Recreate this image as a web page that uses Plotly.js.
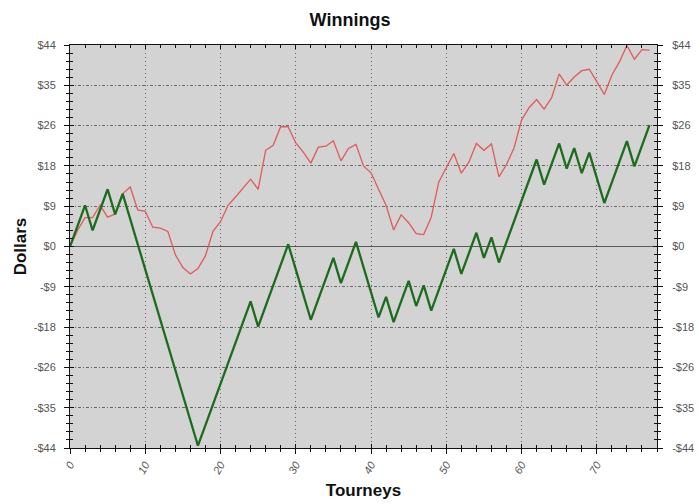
<!DOCTYPE html>
<html>
<head>
<meta charset="utf-8">
<script src="https://cdn.plot.ly/plotly-3.0.1.min.js"></script>
<style>html,body{margin:0;padding:0;background:#fff;}#chart{width:700px;height:504px;}</style>
</head>
<body>
<div id="chart"></div>
<script>
// Tourney index
const tourneys = [0,1,2,3,4,5,6,7,8,9,10,11,12,13,14,15,16,17,18,19,20,21,22,23,24,25,26,27,28,29,30,31,32,33,34,35,36,37,38,39,40,41,42,43,44,45,46,47,48,49,50,51,52,53,54,55,56,57,58,59,60,61,62,63,64,65,66,67,68,69,70,71,72,73,74,75,76,77];
// Actual winnings (green)
const winnings = [0,4.5,9,3.5,8,12.5,7,11.5,6,0.5,-5,-10.5,-16,-21.5,-27,-32.5,-38,-43.5,-39,-34.5,-30,-25.5,-21,-16.5,-12,-17.5,-13,-8.5,-4,0.5,-5,-10.5,-16,-11.5,-7,-2.5,-8,-3.5,1,-4.5,-10,-15.5,-11,-16.5,-12,-7.5,-13,-8.5,-14,-9.5,-5,-0.5,-6,-1.5,3,-2.5,2,-3.5,1,5.5,10,14.5,19,13.5,18,22.5,17,21.5,16,20.5,15,9.5,14,18.5,23,17.5,22,26.5];
// Second (red) series
const expected = [0,3.5,6.3,6.3,9.0,6.4,7.1,11.5,13.0,8.0,7.7,4.2,4.0,3.3,-1.8,-4.6,-6.0,-4.8,-2.0,3.3,5.4,9.0,10.8,12.8,14.7,12.5,21.0,22.1,26.2,26.1,22.6,20.6,18.2,21.7,21.9,23.1,18.7,21.4,22.3,17.6,16.1,12.5,9.0,3.6,6.9,5.2,2.8,2.6,6.4,14.1,17.2,20.3,16.0,18.4,22.5,21.0,22.4,15.2,17.9,21.5,27.6,30.3,32.1,30.0,32.5,37.7,35.2,37.0,38.4,38.7,36.0,33.2,37.4,40.3,43.9,40.9,43.0,42.9];
// Axis ticks
const yTickVals = [-44,-35.2,-26.4,-17.6,-8.8,0,8.8,17.6,26.4,35.2,44];
const yTickText = ['-$44','-$35','-$26','-$18','-$9','$0','$9','$18','$26','$35','$44'];
const xTickVals = [0,10,20,30,40,50,60,70];
const xTickText = ['0','10','20','30','40','50','60','70'];

const tickFont = {family:'Liberation Sans, Arial, sans-serif', size:11, color:'#555'};
const titleFont = {family:'Liberation Sans, Arial, sans-serif', size:17, color:'#111', weight:'bold'};
const xRange = [0,78];
const yRange = [-44,44];

const traces = [
  {x: tourneys, y: expected, type:'scatter', mode:'lines', xaxis:'x', yaxis:'y',
   line:{color:'#e05a5a', width:1.3}, hoverinfo:'skip', showlegend:false},
  {x: tourneys, y: winnings, type:'scatter', mode:'lines', xaxis:'x2', yaxis:'y2',
   line:{color:'#1d6b1d', width:2.3}, hoverinfo:'skip', showlegend:false}
];

const baseX = {range:xRange, tickmode:'array', tickvals:xTickVals, ticktext:xTickText,
  tickangle:-60, tickfont:Object.assign({}, tickFont, {style:'italic'}), showline:true, linecolor:'#111', linewidth:1,
  tickcolor:'#111', tickwidth:1};
const baseY = {range:yRange, tickmode:'array', tickvals:yTickVals, ticktext:yTickText,
  tickfont:tickFont, showline:true, linecolor:'#111', linewidth:1, mirror:'allticks',
  tickcolor:'#111', tickwidth:1};

const layout = {
  width:700, height:504,
  margin:{l:70, r:43, t:45, b:56, pad:0},
  paper_bgcolor:'#ffffff', plot_bgcolor:'#d3d3d3',
  title:{text:'Winnings', font:{family:'Liberation Sans, Arial, sans-serif', size:18, color:'#111', weight:'bold'},
    x:0.5, xref:'container', y:0.96, yref:'container', yanchor:'middle'},
  xaxis: Object.assign({}, baseX, {
    mirror:true, ticks:'outside', ticklen:5, showgrid:true, gridcolor:'#666', griddash:'1px,3px', gridwidth:1,
    zeroline:false, minor:{dtick:2, tick0:0, ticks:'outside', ticklen:3, tickcolor:'#111', showgrid:false},
    title:{text:'Tourneys', font:titleFont, standoff:8}, automargin:false
  }),
  xaxis2: Object.assign({}, baseX, {
    overlaying:'x', anchor:'y2', side:'bottom', mirror:'allticks', ticks:'inside', ticklen:4, showticklabels:false,
    showgrid:false, zeroline:false, minor:{dtick:2, tick0:0, ticks:'inside', ticklen:3, tickcolor:'#111', showgrid:false}
  }),
  yaxis: Object.assign({}, baseY, {
    side:'left', ticks:'outside', ticklen:5, ticklabelstandoff:6,
    showgrid:true, gridcolor:'#666', griddash:'3px,2px,1px,2px', gridwidth:1,
    zeroline:true, zerolinecolor:'#5a5a5a', zerolinewidth:1.6,
    minor:{dtick:1.76, tick0:0, ticks:'outside', ticklen:3, tickcolor:'#111', showgrid:false},
    title:{text:'Dollars', font:titleFont, standoff:2}, automargin:false
  }),
  yaxis2: Object.assign({}, baseY, {
    overlaying:'y', anchor:'x2', side:'right', ticks:'inside', ticklen:4, ticklabelstandoff:12,
    showgrid:false, zeroline:false,
    minor:{dtick:1.76, tick0:0, ticks:'inside', ticklen:3, tickcolor:'#111', showgrid:false}
  })
};

Plotly.newPlot('chart', traces, layout, {staticPlot:true, displayModeBar:false});
</script>
</body>
</html>
